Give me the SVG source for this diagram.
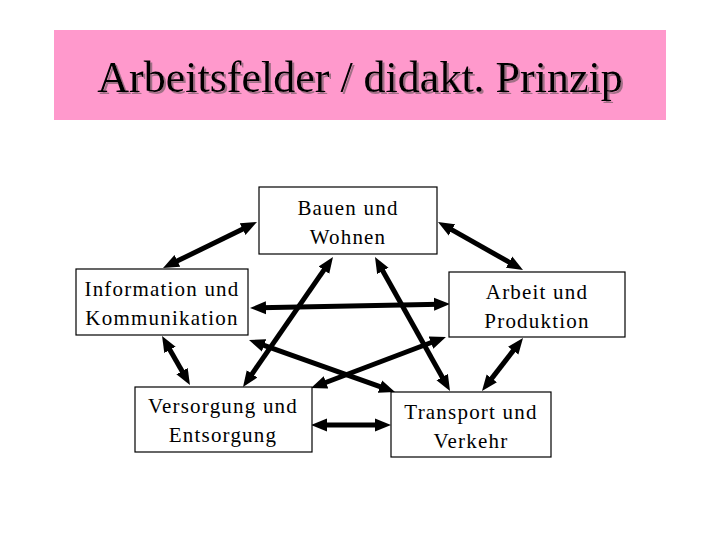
<svg xmlns="http://www.w3.org/2000/svg" width="720" height="540" viewBox="0 0 720 540">
<style>
  .box { fill: #ffffff; stroke: #000000; stroke-width: 1.2; }
  .lbl { font-family: "Liberation Serif", "Times New Roman", serif; font-size: 21px; letter-spacing: 1.2px; fill: #000000; text-anchor: middle; }
  .title { font-family: "Liberation Serif", "Times New Roman", serif; font-size: 44px; text-anchor: middle; fill: #000000; }
  .arr { stroke: #000000; stroke-width: 5; fill: none; marker-start: url(#ah); marker-end: url(#ah); }
</style>
<defs>
  <marker id="ah" markerUnits="userSpaceOnUse" viewBox="0 -7 16 14" refX="6" refY="0" markerWidth="16" markerHeight="14" orient="auto-start-reverse">
    <path d="M0,-6.5 L16,0 L0,6.5 z" fill="#000000"/>
  </marker>
  <filter id="shadow" x="-5%" y="-20%" width="110%" height="140%">
    <feOffset in="SourceAlpha" dx="2" dy="2" result="off"/>
    <feFlood flood-color="#a06f86" result="col"/>
    <feComposite in="col" in2="off" operator="in" result="sh"/>
    <feMerge>
      <feMergeNode in="sh"/>
      <feMergeNode in="SourceGraphic"/>
    </feMerge>
  </filter>
</defs>
<rect width="720" height="540" fill="#ffffff"/>
<g id="title">
  <rect x="54" y="30" width="612" height="90" fill="#ff99cc"/>
  <text class="title" x="360" y="92" filter="url(#shadow)">Arbeitsfelder / didakt. Prinzip</text>
</g>
<g id="connectors">
  <line class="arr" x1="248" y1="226.4" x2="172" y2="263.6"/>
  <line class="arr" x1="446.7" y1="226.9" x2="514.3" y2="265.1"/>
  <line class="arr" x1="260" y1="307.8" x2="440" y2="304.2"/>
  <line class="arr" x1="327.3" y1="265.2" x2="248.7" y2="378.8"/>
  <line class="arr" x1="379.9" y1="265.7" x2="445.1" y2="382.3"/>
  <line class="arr" x1="258.4" y1="343.4" x2="385.6" y2="388.6"/>
  <line class="arr" x1="436.6" y1="340.5" x2="320.4" y2="384.5"/>
  <line class="arr" x1="167" y1="344.7" x2="185" y2="376.3"/>
  <line class="arr" x1="516.9" y1="345.9" x2="488.1" y2="383.1"/>
  <line class="arr" x1="321" y1="425" x2="381" y2="425"/>
</g>
<g id="bauen">
  <rect class="box" x="259" y="187" width="178" height="67"/>
  <text class="lbl" x="348" y="215">Bauen und</text>
  <text class="lbl" x="348" y="244">Wohnen</text>
</g>
<g id="information">
  <rect class="box" x="76" y="269" width="172" height="66"/>
  <text class="lbl" x="162" y="296">Information und</text>
  <text class="lbl" x="162" y="325">Kommunikation</text>
</g>
<g id="arbeit">
  <rect class="box" x="449" y="272" width="176" height="65"/>
  <text class="lbl" x="537" y="299">Arbeit und</text>
  <text class="lbl" x="537" y="328">Produktion</text>
</g>
<g id="versorgung">
  <rect class="box" x="135" y="387" width="177" height="65"/>
  <text class="lbl" x="223" y="413">Versorgung und</text>
  <text class="lbl" x="223" y="442">Entsorgung</text>
</g>
<g id="transport">
  <rect class="box" x="391" y="392" width="160" height="65"/>
  <text class="lbl" x="471" y="419">Transport und</text>
  <text class="lbl" x="471" y="448">Verkehr</text>
</g>
</svg>
